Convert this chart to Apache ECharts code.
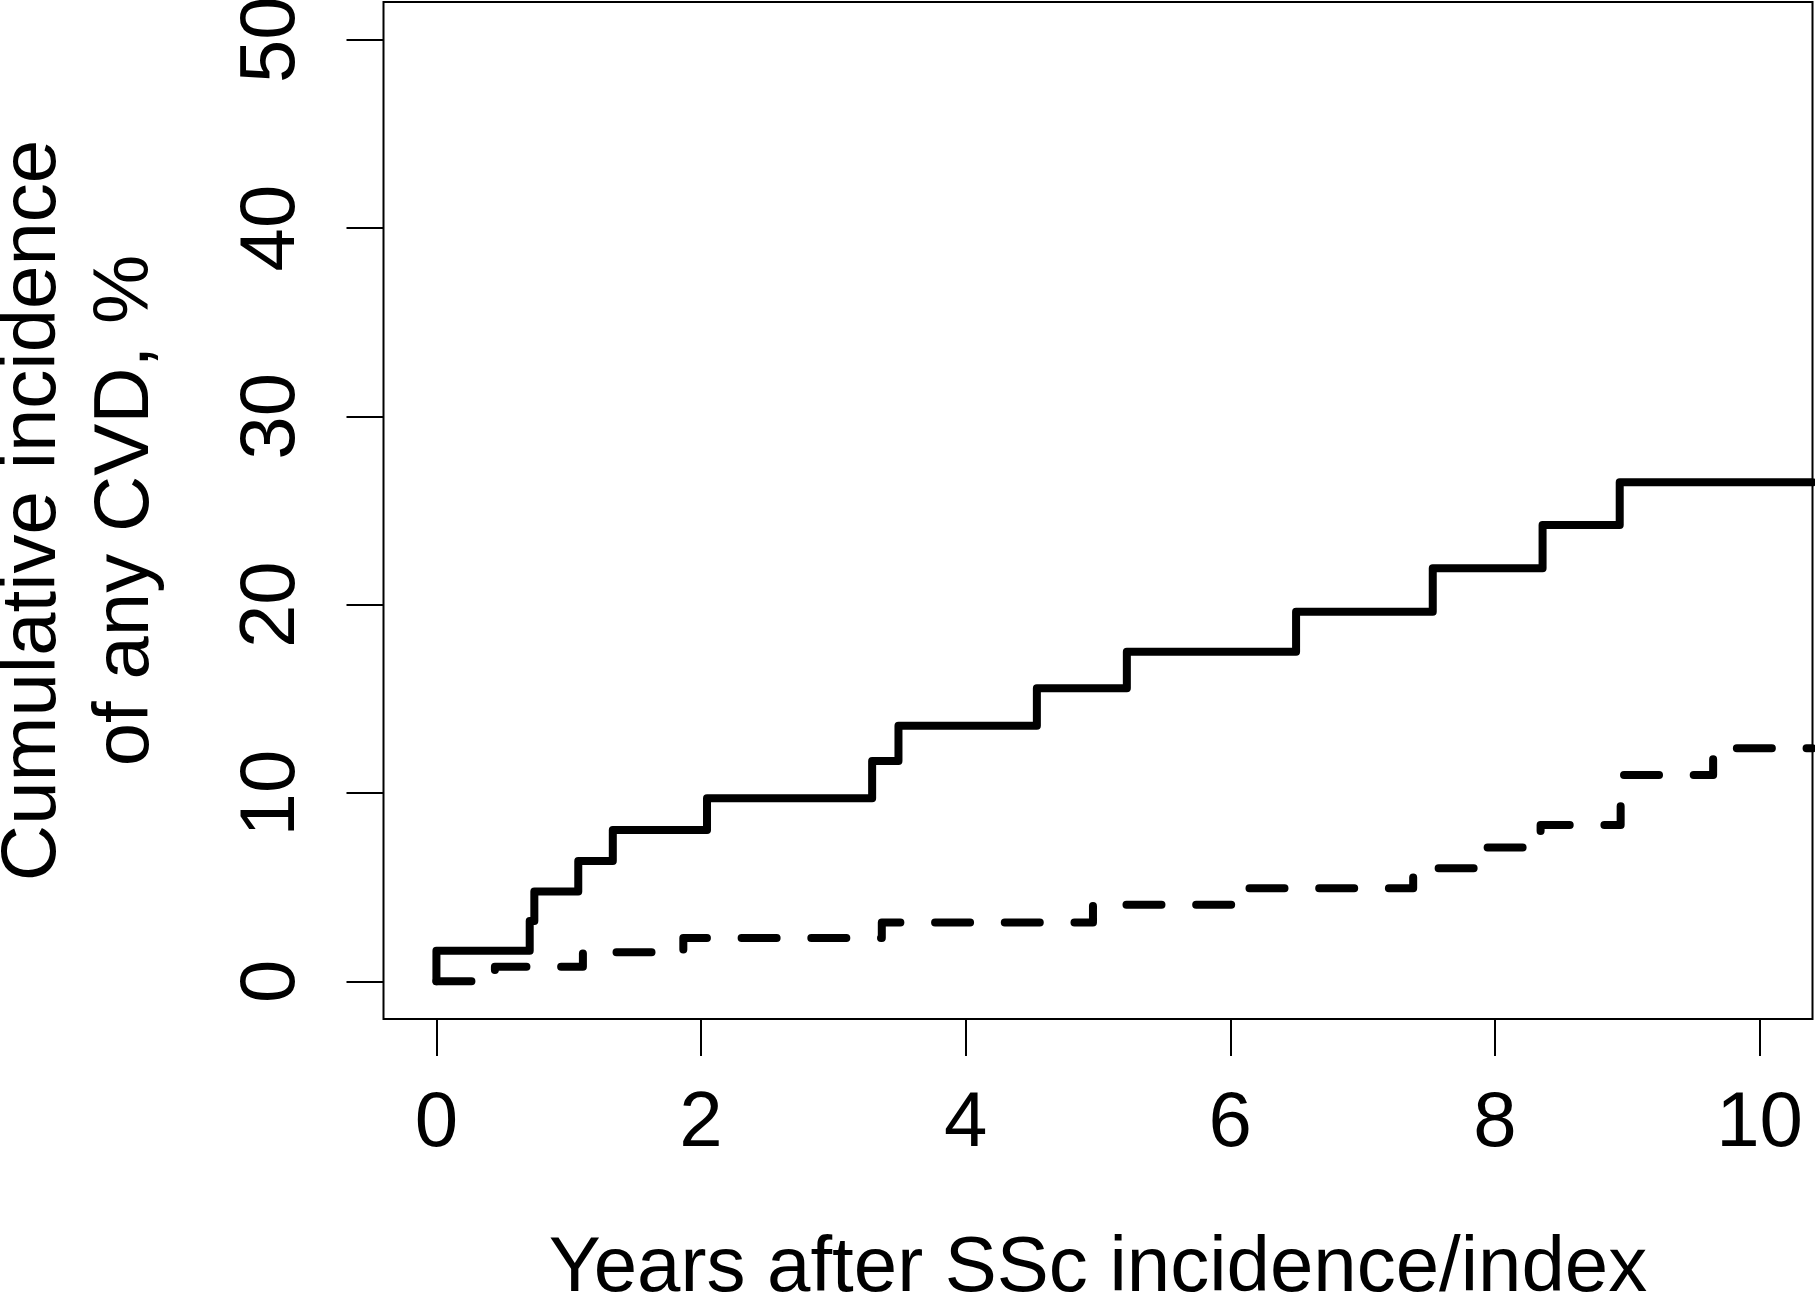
<!DOCTYPE html>
<html>
<head>
<meta charset="utf-8">
<script src="https://cdn.jsdelivr.net/npm/echarts@6/dist/echarts.min.js"></script>
<style>
html,body{margin:0;padding:0;background:#ffffff;}
#chart{width:1815px;height:1296px;}
</style>
</head>
<body>
<div id="chart"></div>
<script>
// Step-function data (years, cumulative incidence %)
const sscTimes  = [0, 0, 0.705, 0.740, 1.072, 1.333, 2.045, 3.293, 3.492, 4.538, 5.218, 6.497, 7.530, 8.360, 8.943, 10.4];
const sscValues = [0, 1.63, 3.20, 4.77, 6.39, 8.03, 9.72, 11.70, 13.57, 15.56, 17.50, 19.63, 21.93, 24.23, 26.50, 26.50];

const refTimes  = [0, 0.442, 1.107, 1.866, 3.366, 4.962, 6.077, 7.382, 7.897, 8.345, 8.950, 9.649, 10.4];
const refValues = [0, 0.78, 1.54, 2.30, 3.13, 4.07, 4.94, 6.00, 7.10, 8.30, 10.96, 12.37, 12.37];

const xTickValues = [0, 2, 4, 6, 8, 10];
const yTickValues = [0, 10, 20, 30, 40, 50];
const xTitle = 'Years after SSc incidence/index';
const yTitleLines = ['Cumulative incidence', 'of any CVD, %'];

const FONT = '"Liberation Sans", Arial, Helvetica, sans-serif';
const FS = 78;

const chart = echarts.init(document.getElementById('chart'), null, {renderer: 'canvas'});

function pairs(ts, vs) { return ts.map((t, i) => [t, vs[i]]); }

const option = {
  animation: false,
  backgroundColor: '#ffffff',
  grid: {
    left: 383.5, right: 2.5, top: 2, bottom: 277,
    show: true, borderColor: '#000', borderWidth: 2, backgroundColor: 'transparent',
    containLabel: false, outerBoundsMode: 'none'
  },
  xAxis: {
    type: 'value', min: -0.4, max: 10.4,
    axisLine: {show: false, onZero: false},
    splitLine: {show: false},
    axisTick: {show: true, inside: false, length: 37, customValues: xTickValues, lineStyle: {color: '#000', width: 2}},
    axisLabel: {show: true, customValues: xTickValues, margin: 66, color: '#000', fontSize: FS, fontFamily: FONT},
    name: xTitle, nameLocation: 'middle', nameGap: 211,
    nameTextStyle: {color: '#000', fontSize: FS, fontFamily: FONT}
  },
  yAxis: {
    type: 'value', min: -2, max: 52,
    axisLine: {show: false, onZero: false},
    splitLine: {show: false},
    axisTick: {show: true, inside: false, length: 37, customValues: yTickValues, lineStyle: {color: '#000', width: 2}},
    axisLabel: {show: true, customValues: yTickValues, rotate: 90, margin: 72.5, color: '#000', fontSize: FS, fontFamily: FONT}
  },
  graphic: [
    {type: 'text', x: 33, y: 510.5, rotation: Math.PI / 2, silent: true,
     style: {text: yTitleLines[0], fill: '#000', fontSize: FS, fontFamily: FONT, align: 'center', verticalAlign: 'middle'}},
    {type: 'text', x: 126.5, y: 510.5, rotation: Math.PI / 2, silent: true,
     style: {text: yTitleLines[1], fill: '#000', fontSize: FS, fontFamily: FONT, align: 'center', verticalAlign: 'middle'}}
  ],
  series: [
    {
      name: 'SSc', type: 'line', step: 'end', symbol: 'none', clip: true,
      data: pairs(sscTimes, sscValues),
      lineStyle: {color: '#000', width: 8, type: 'solid', cap: 'round', join: 'round'}
    },
    {
      name: 'Comparator', type: 'line', step: 'end', symbol: 'none', clip: true,
      data: pairs(refTimes, refValues),
      lineStyle: {color: '#000', width: 8, type: [35, 34.7], dashOffset: 0, cap: 'round', join: 'round'}
    }
  ]
};
chart.setOption(option);
</script>
</body>
</html>
